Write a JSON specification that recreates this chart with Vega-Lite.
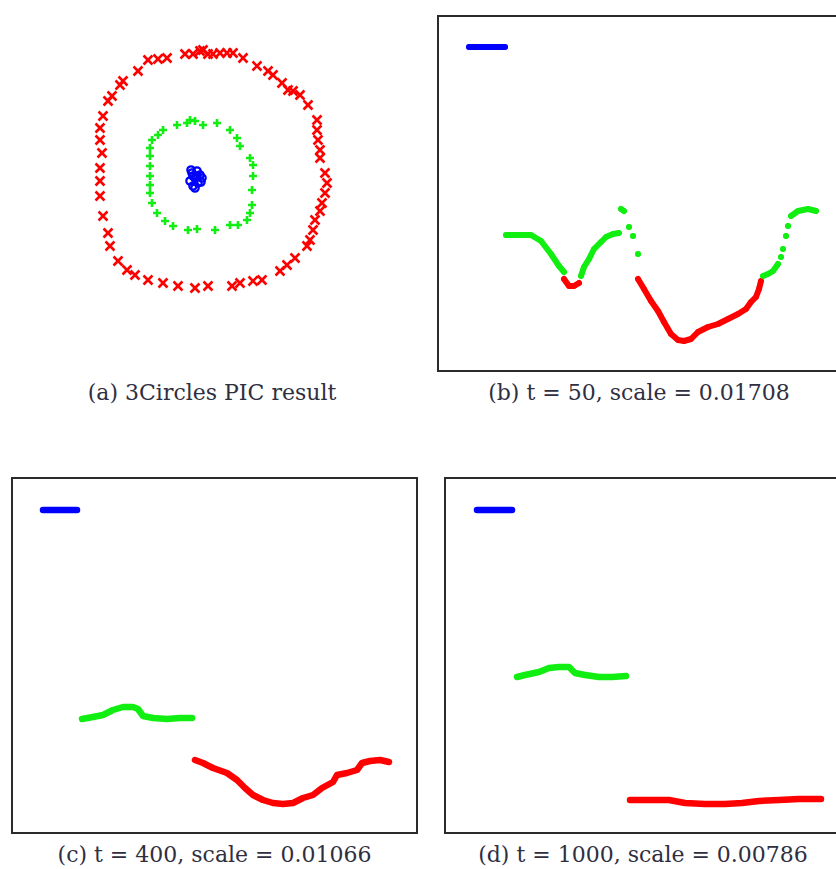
{
  "$schema": "https://vega.github.io/schema/vega-lite/v6.json",
  "background": "white",
  "padding": {"left": 11, "top": 15, "right": 0, "bottom": 0},
  "config": {
    "view": {"stroke": "#2b2b2b", "strokeWidth": 2},
    "title": {"orient": "bottom", "font": "DejaVu Serif", "fontSize": 22, "fontWeight": "normal", "color": "#2f2f3f", "offset": 12, "anchor": "middle"}
  },
  "datasets": {
    "a": [
      {"cluster":"outer","x":-0.47,"y":1.18},{"cluster":"outer","x":-0.37,"y":1.19},{"cluster":"outer","x":-0.28,"y":1.2},{"cluster":"outer","x":-0.1,"y":1.24},{"cluster":"outer","x":-0.02,"y":1.24},{"cluster":"outer","x":0.05,"y":1.27},{"cluster":"outer","x":0.08,"y":1.28},{"cluster":"outer","x":0.13,"y":1.24},{"cluster":"outer","x":0.18,"y":1.24},{"cluster":"outer","x":0.25,"y":1.25},{"cluster":"outer","x":0.32,"y":1.25},{"cluster":"outer","x":0.38,"y":1.25},{"cluster":"outer","x":0.48,"y":1.2},{"cluster":"outer","x":0.62,"y":1.12},{"cluster":"outer","x":0.73,"y":1.07},{"cluster":"outer","x":0.78,"y":1.03},{"cluster":"outer","x":0.87,"y":0.95},{"cluster":"outer","x":0.93,"y":0.88},{"cluster":"outer","x":0.98,"y":0.87},{"cluster":"outer","x":1.05,"y":0.83},{"cluster":"outer","x":1.13,"y":0.73},{"cluster":"outer","x":1.22,"y":0.58},{"cluster":"outer","x":1.22,"y":0.48},{"cluster":"outer","x":1.23,"y":0.38},{"cluster":"outer","x":1.25,"y":0.28},{"cluster":"outer","x":1.25,"y":0.2},{"cluster":"outer","x":1.3,"y":0.05},{"cluster":"outer","x":1.32,"y":-0.05},{"cluster":"outer","x":1.3,"y":-0.15},{"cluster":"outer","x":1.27,"y":-0.25},{"cluster":"outer","x":1.25,"y":-0.33},{"cluster":"outer","x":1.2,"y":-0.42},{"cluster":"outer","x":1.18,"y":-0.52},{"cluster":"outer","x":1.15,"y":-0.62},{"cluster":"outer","x":1.12,"y":-0.68},{"cluster":"outer","x":1.0,"y":-0.8},{"cluster":"outer","x":0.92,"y":-0.87},{"cluster":"outer","x":0.85,"y":-0.93},{"cluster":"outer","x":0.67,"y":-1.02},{"cluster":"outer","x":0.58,"y":-1.03},{"cluster":"outer","x":0.45,"y":-1.05},{"cluster":"outer","x":0.37,"y":-1.08},{"cluster":"outer","x":0.13,"y":-1.08},{"cluster":"outer","x":0.0,"y":-1.1},{"cluster":"outer","x":-0.17,"y":-1.08},{"cluster":"outer","x":-0.32,"y":-1.05},{"cluster":"outer","x":-0.47,"y":-1.02},{"cluster":"outer","x":-0.6,"y":-0.97},{"cluster":"outer","x":-0.68,"y":-0.92},{"cluster":"outer","x":-0.77,"y":-0.83},{"cluster":"outer","x":-0.85,"y":-0.68},{"cluster":"outer","x":-0.87,"y":-0.55},{"cluster":"outer","x":-0.92,"y":-0.38},{"cluster":"outer","x":-0.95,"y":-0.18},{"cluster":"outer","x":-0.95,"y":-0.03},{"cluster":"outer","x":-0.95,"y":0.1},{"cluster":"outer","x":-0.93,"y":0.25},{"cluster":"outer","x":-0.95,"y":0.38},{"cluster":"outer","x":-0.95,"y":0.5},{"cluster":"outer","x":-0.92,"y":0.62},{"cluster":"outer","x":-0.87,"y":0.77},{"cluster":"outer","x":-0.83,"y":0.82},{"cluster":"outer","x":-0.75,"y":0.93},{"cluster":"outer","x":-0.72,"y":0.97},{"cluster":"outer","x":-0.57,"y":1.07},
      {"cluster":"middle","x":-0.05,"y":0.58},{"cluster":"middle","x":-0.08,"y":0.55},{"cluster":"middle","x":-0.18,"y":0.53},{"cluster":"middle","x":-0.32,"y":0.48},{"cluster":"middle","x":-0.37,"y":0.43},{"cluster":"middle","x":-0.43,"y":0.38},{"cluster":"middle","x":-0.45,"y":0.3},{"cluster":"middle","x":-0.45,"y":0.22},{"cluster":"middle","x":-0.45,"y":0.12},{"cluster":"middle","x":-0.45,"y":0.02},{"cluster":"middle","x":-0.45,"y":-0.07},{"cluster":"middle","x":-0.45,"y":-0.15},{"cluster":"middle","x":-0.43,"y":-0.25},{"cluster":"middle","x":-0.38,"y":-0.35},{"cluster":"middle","x":-0.3,"y":-0.43},{"cluster":"middle","x":-0.22,"y":-0.48},{"cluster":"middle","x":-0.07,"y":-0.52},{"cluster":"middle","x":0.02,"y":-0.51},{"cluster":"middle","x":0.2,"y":-0.52},{"cluster":"middle","x":0.35,"y":-0.47},{"cluster":"middle","x":0.43,"y":-0.47},{"cluster":"middle","x":0.52,"y":-0.42},{"cluster":"middle","x":0.55,"y":-0.35},{"cluster":"middle","x":0.57,"y":-0.27},{"cluster":"middle","x":0.57,"y":-0.12},{"cluster":"middle","x":0.58,"y":0.02},{"cluster":"middle","x":0.58,"y":0.13},{"cluster":"middle","x":0.55,"y":0.2},{"cluster":"middle","x":0.45,"y":0.32},{"cluster":"middle","x":0.42,"y":0.4},{"cluster":"middle","x":0.35,"y":0.48},{"cluster":"middle","x":0.22,"y":0.55},{"cluster":"middle","x":0.08,"y":0.53},{"cluster":"middle","x":0.0,"y":0.57},
      {"cluster":"inner","x":-0.03,"y":0.05},{"cluster":"inner","x":0.02,"y":0.07},{"cluster":"inner","x":0.05,"y":0.03},{"cluster":"inner","x":0.07,"y":0.0},{"cluster":"inner","x":0.03,"y":-0.05},{"cluster":"inner","x":-0.02,"y":-0.08},{"cluster":"inner","x":-0.05,"y":-0.03},{"cluster":"inner","x":0.0,"y":0.0},{"cluster":"inner","x":0.02,"y":0.02},{"cluster":"inner","x":-0.02,"y":0.02},{"cluster":"inner","x":0.0,"y":-0.1},{"cluster":"inner","x":-0.04,"y":0.08},{"cluster":"inner","x":0.06,"y":-0.04}
    ],
    "b": [
      {"cluster":"inner","seg":"b","x":4,"y":324},{"cluster":"inner","seg":"b","x":40,"y":324},
      {"cluster":"middle","seg":"g1","x":41,"y":136},{"cluster":"middle","seg":"g1","x":66,"y":136},{"cluster":"middle","seg":"g1","x":76,"y":130},{"cluster":"middle","seg":"g1","x":86,"y":117},{"cluster":"middle","seg":"g1","x":94,"y":105},{"cluster":"middle","seg":"g1","x":99,"y":99},
      {"cluster":"outer","seg":"r1","x":99,"y":92},{"cluster":"outer","seg":"r1","x":104,"y":85},{"cluster":"outer","seg":"r1","x":109,"y":85},{"cluster":"outer","seg":"r1","x":114,"y":88},
      {"cluster":"middle","seg":"g2","x":116,"y":95},{"cluster":"middle","seg":"g2","x":119,"y":104},{"cluster":"middle","seg":"g2","x":124,"y":112},{"cluster":"middle","seg":"g2","x":129,"y":122},{"cluster":"middle","seg":"g2","x":136,"y":129},{"cluster":"middle","seg":"g2","x":141,"y":134},{"cluster":"middle","seg":"g2","x":148,"y":137},{"cluster":"middle","seg":"g2","x":154,"y":138},
      {"cluster":"middle","seg":"d1","x":156,"y":162},{"cluster":"middle","seg":"d1","x":159,"y":160},
      {"cluster":"middle","seg":"d2","x":164,"y":144},
      {"cluster":"middle","seg":"d3","x":168,"y":135},
      {"cluster":"middle","seg":"d4","x":173,"y":117},
      {"cluster":"outer","seg":"r2","x":173,"y":92},{"cluster":"outer","seg":"r2","x":179,"y":82},{"cluster":"outer","seg":"r2","x":186,"y":70},{"cluster":"outer","seg":"r2","x":193,"y":60},{"cluster":"outer","seg":"r2","x":199,"y":49},{"cluster":"outer","seg":"r2","x":206,"y":37},{"cluster":"outer","seg":"r2","x":213,"y":31},{"cluster":"outer","seg":"r2","x":219,"y":30},{"cluster":"outer","seg":"r2","x":226,"y":32},{"cluster":"outer","seg":"r2","x":233,"y":39},{"cluster":"outer","seg":"r2","x":243,"y":44},{"cluster":"outer","seg":"r2","x":253,"y":47},{"cluster":"outer","seg":"r2","x":263,"y":52},{"cluster":"outer","seg":"r2","x":273,"y":57},{"cluster":"outer","seg":"r2","x":281,"y":62},{"cluster":"outer","seg":"r2","x":286,"y":69},{"cluster":"outer","seg":"r2","x":291,"y":74},{"cluster":"outer","seg":"r2","x":294,"y":82},{"cluster":"outer","seg":"r2","x":296,"y":90},
      {"cluster":"middle","seg":"g3","x":298,"y":95},{"cluster":"middle","seg":"g3","x":303,"y":97},{"cluster":"middle","seg":"g3","x":308,"y":100},{"cluster":"middle","seg":"g3","x":313,"y":107},
      {"cluster":"middle","seg":"d5","x":316,"y":114},
      {"cluster":"middle","seg":"d6","x":318,"y":122},
      {"cluster":"middle","seg":"d7","x":321,"y":135},
      {"cluster":"middle","seg":"d8","x":323,"y":145},
      {"cluster":"middle","seg":"g4","x":326,"y":155},{"cluster":"middle","seg":"g4","x":333,"y":160},{"cluster":"middle","seg":"g4","x":343,"y":162},{"cluster":"middle","seg":"g4","x":351,"y":160}
    ],
    "c": [
      {"cluster":"inner","seg":"b","x":4,"y":323},{"cluster":"inner","seg":"b","x":38,"y":323},
      {"cluster":"middle","seg":"g","x":43,"y":114},{"cluster":"middle","seg":"g","x":54,"y":116},{"cluster":"middle","seg":"g","x":64,"y":118},{"cluster":"middle","seg":"g","x":74,"y":123},{"cluster":"middle","seg":"g","x":84,"y":126},{"cluster":"middle","seg":"g","x":94,"y":126},{"cluster":"middle","seg":"g","x":99,"y":124},{"cluster":"middle","seg":"g","x":104,"y":117},{"cluster":"middle","seg":"g","x":114,"y":115},{"cluster":"middle","seg":"g","x":128,"y":114},{"cluster":"middle","seg":"g","x":141,"y":115},{"cluster":"middle","seg":"g","x":153,"y":115},
      {"cluster":"outer","seg":"r","x":156,"y":73},{"cluster":"outer","seg":"r","x":164,"y":70},{"cluster":"outer","seg":"r","x":174,"y":65},{"cluster":"outer","seg":"r","x":188,"y":60},{"cluster":"outer","seg":"r","x":198,"y":53},{"cluster":"outer","seg":"r","x":206,"y":45},{"cluster":"outer","seg":"r","x":214,"y":38},{"cluster":"outer","seg":"r","x":224,"y":33},{"cluster":"outer","seg":"r","x":234,"y":30},{"cluster":"outer","seg":"r","x":244,"y":29},{"cluster":"outer","seg":"r","x":254,"y":30},{"cluster":"outer","seg":"r","x":264,"y":35},{"cluster":"outer","seg":"r","x":274,"y":38},{"cluster":"outer","seg":"r","x":283,"y":45},{"cluster":"outer","seg":"r","x":294,"y":51},{"cluster":"outer","seg":"r","x":298,"y":58},{"cluster":"outer","seg":"r","x":308,"y":60},{"cluster":"outer","seg":"r","x":318,"y":63},{"cluster":"outer","seg":"r","x":323,"y":70},{"cluster":"outer","seg":"r","x":331,"y":72},{"cluster":"outer","seg":"r","x":341,"y":73},{"cluster":"outer","seg":"r","x":350,"y":71}
    ],
    "d": [
      {"cluster":"inner","seg":"b","x":4,"y":323},{"cluster":"inner","seg":"b","x":39,"y":323},
      {"cluster":"middle","seg":"g","x":44,"y":156},{"cluster":"middle","seg":"g","x":52,"y":158},{"cluster":"middle","seg":"g","x":66,"y":161},{"cluster":"middle","seg":"g","x":76,"y":165},{"cluster":"middle","seg":"g","x":86,"y":166},{"cluster":"middle","seg":"g","x":96,"y":166},{"cluster":"middle","seg":"g","x":102,"y":160},{"cluster":"middle","seg":"g","x":112,"y":158},{"cluster":"middle","seg":"g","x":126,"y":156},{"cluster":"middle","seg":"g","x":139,"y":156},{"cluster":"middle","seg":"g","x":153,"y":157},
      {"cluster":"outer","seg":"r","x":157,"y":33},{"cluster":"outer","seg":"r","x":176,"y":33},{"cluster":"outer","seg":"r","x":196,"y":33},{"cluster":"outer","seg":"r","x":212,"y":30},{"cluster":"outer","seg":"r","x":232,"y":29},{"cluster":"outer","seg":"r","x":252,"y":29},{"cluster":"outer","seg":"r","x":269,"y":30},{"cluster":"outer","seg":"r","x":286,"y":32},{"cluster":"outer","seg":"r","x":306,"y":33},{"cluster":"outer","seg":"r","x":326,"y":34},{"cluster":"outer","seg":"r","x":348,"y":34}
    ]
  },
  "resolve": {"scale": {"x": "independent", "y": "independent"}},
  "spacing": 72,
  "vconcat": [
    {
      "resolve": {"scale": {"x": "independent", "y": "independent"}},
      "spacing": 25,
      "hconcat": [
        {
          "width": 400, "height": 355,
          "view": {"stroke": null},
          "title": "(a) 3Circles PIC result",
          "data": {"name": "a"},
          "encoding": {
            "x": {"field": "x", "type": "quantitative", "axis": null, "scale": {"domain": [-1.83, 2.17], "nice": false, "zero": false}},
            "y": {"field": "y", "type": "quantitative", "axis": null, "scale": {"domain": [-1.93, 1.62], "nice": false, "zero": false}},
            "color": {"field": "cluster", "type": "nominal", "legend": null, "scale": {"domain": ["inner", "middle", "outer"], "range": ["#0000ff", "#11ee11", "#ff0000"]}}
          },
          "layer": [
            {"transform": [{"filter": "datum.cluster === 'outer'"}], "mark": {"type": "point", "shape": "M-1,-1L1,1M-1,1L1,-1", "filled": false, "size": 80, "strokeWidth": 2.6, "opacity": 1}},
            {"transform": [{"filter": "datum.cluster === 'middle'"}], "mark": {"type": "point", "shape": "M-1,0L1,0M0,-1L0,1", "filled": false, "size": 64, "strokeWidth": 2.6, "opacity": 1}},
            {"transform": [{"filter": "datum.cluster === 'inner'"}], "mark": {"type": "point", "shape": "circle", "filled": false, "size": 55, "strokeWidth": 2.2, "opacity": 1}}
          ]
        },
        {
          "width": 402, "height": 355,
          "title": "(b) t = 50, scale = 0.01708",
          "data": {"name": "b"},
          "encoding": {
            "x": {"field": "x", "type": "quantitative", "axis": null, "scale": {"domain": [-27, 375], "nice": false, "zero": false}},
            "y": {"field": "y", "type": "quantitative", "axis": null, "scale": {"domain": [0, 355], "nice": false, "zero": false}},
            "color": {"field": "cluster", "type": "nominal", "legend": null, "scale": {"domain": ["inner", "middle", "outer"], "range": ["#0000ff", "#11ee11", "#ff0000"]}},
            "detail": {"field": "seg"}
          },
          "layer": [
            {"mark": {"type": "line", "strokeWidth": 6, "strokeCap": "round", "strokeJoin": "round"}},
            {"mark": {"type": "circle", "size": 30, "opacity": 1}}
          ]
        }
      ]
    },
    {
      "resolve": {"scale": {"x": "independent", "y": "independent"}},
      "spacing": 26,
      "hconcat": [
        {
          "width": 405, "height": 355,
          "title": "(c) t = 400, scale = 0.01066",
          "data": {"name": "c"},
          "encoding": {
            "x": {"field": "x", "type": "quantitative", "axis": null, "scale": {"domain": [-27, 378], "nice": false, "zero": false}},
            "y": {"field": "y", "type": "quantitative", "axis": null, "scale": {"domain": [0, 355], "nice": false, "zero": false}},
            "color": {"field": "cluster", "type": "nominal", "legend": null, "scale": {"domain": ["inner", "middle", "outer"], "range": ["#0000ff", "#11ee11", "#ff0000"]}},
            "detail": {"field": "seg"}
          },
          "layer": [
            {"mark": {"type": "line", "strokeWidth": 6.5, "strokeCap": "round", "strokeJoin": "round"}}
          ]
        },
        {
          "width": 396, "height": 355,
          "title": "(d) t = 1000, scale = 0.00786",
          "data": {"name": "d"},
          "encoding": {
            "x": {"field": "x", "type": "quantitative", "axis": null, "scale": {"domain": [-28, 368], "nice": false, "zero": false}},
            "y": {"field": "y", "type": "quantitative", "axis": null, "scale": {"domain": [0, 355], "nice": false, "zero": false}},
            "color": {"field": "cluster", "type": "nominal", "legend": null, "scale": {"domain": ["inner", "middle", "outer"], "range": ["#0000ff", "#11ee11", "#ff0000"]}},
            "detail": {"field": "seg"}
          },
          "layer": [
            {"mark": {"type": "line", "strokeWidth": 6.5, "strokeCap": "round", "strokeJoin": "round"}}
          ]
        }
      ]
    }
  ]
}
